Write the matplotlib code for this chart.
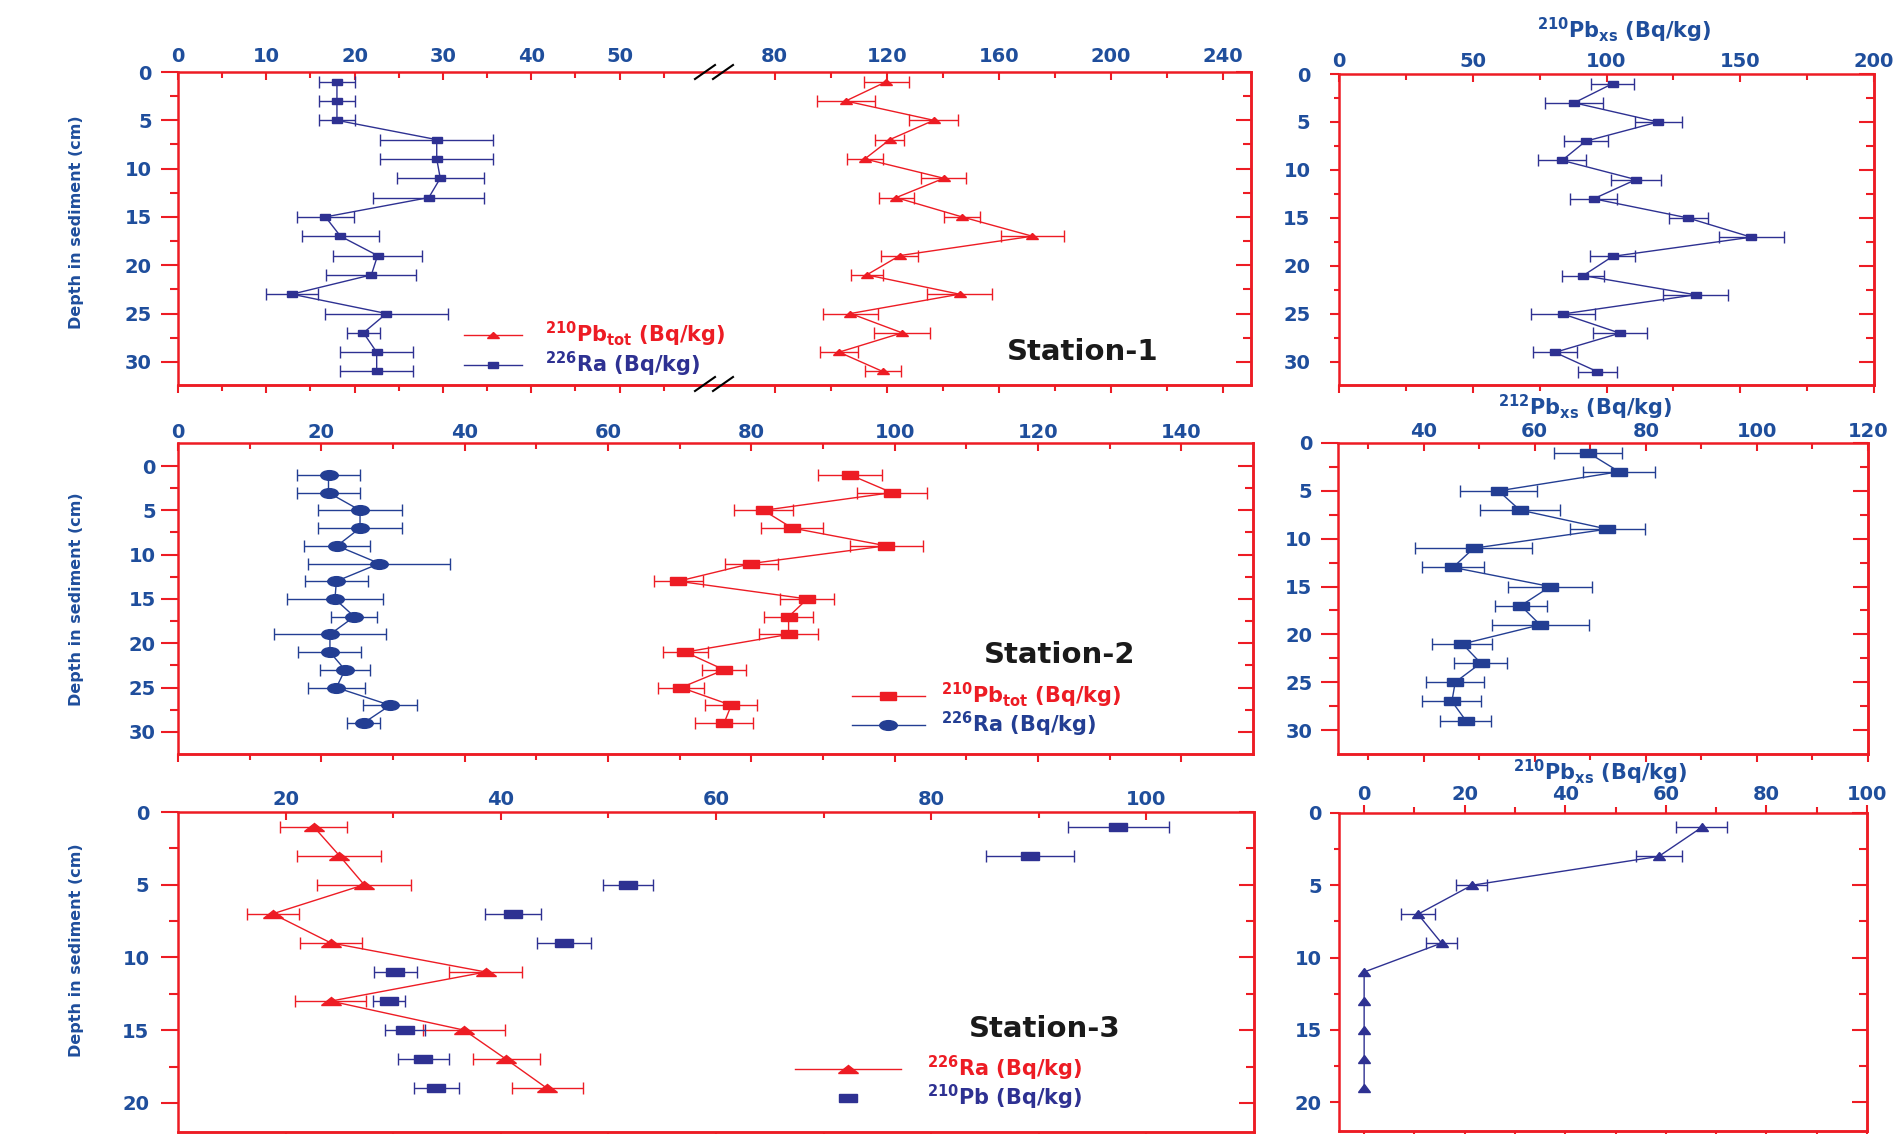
import matplotlib

matplotlib.use("Agg")
import matplotlib.pyplot as plt
from matplotlib import font_manager
from matplotlib.lines import Line2D
from matplotlib.markers import MarkerStyle
from matplotlib.ticker import FixedLocator
from matplotlib.transforms import Affine2D

W, H = 1902, 1134
RED = "#ED1C24"
NAVY = "#2E3192"
BLUE = "#1F4E9C"

plt.rcParams["font.family"] = ["DejaVu Sans"]
plt.rcParams["font.weight"] = "bold"
plt.rcParams["mathtext.default"] = "bf"

# ---- Station-1 ----
depth1 = [1, 3, 5, 7, 9, 11, 13, 15, 17, 19, 21, 23, 25, 27, 29, 31]
ra1 = [18.0, 18.0, 18.0, 29.3, 29.3, 29.7, 28.4, 16.7, 18.4, 22.6, 21.9, 12.9, 23.6, 21.0, 22.5, 22.5]
ra1_err = [2.0, 2.0, 2.0, 6.4, 6.4, 4.9, 6.3, 3.2, 4.4, 5.0, 5.1, 2.9, 7.0, 1.9, 4.1, 4.1]
pbtot1 = [119.9, 105.4, 136.8, 121.1, 112.2, 140.4, 123.4, 146.9, 172.0, 124.7, 112.9, 146.0, 107.1, 125.5, 103.0, 118.6]
pbtot1_err = [7.9, 10.3, 8.7, 5.1, 6.5, 8.0, 6.2, 6.4, 11.3, 6.6, 5.7, 11.6, 9.9, 10.1, 6.9, 6.4]
pbxs1 = [102.3, 87.9, 119.3, 92.2, 83.4, 111.0, 95.2, 130.5, 154.1, 102.3, 91.3, 133.3, 83.7, 105.0, 80.7, 96.5]
pbxs1_err = [8.0, 10.8, 8.8, 8.2, 8.9, 9.2, 8.8, 7.3, 12.2, 8.4, 7.8, 12.0, 12.0, 10.2, 8.2, 7.3]

# ---- Station-2 ----
depth2 = [1, 3, 5, 7, 9, 11, 13, 15, 17, 19, 21, 23, 25, 27, 29]
ra2 = [21.0, 21.0, 25.4, 25.4, 22.2, 28.1, 22.1, 21.9, 24.6, 21.2, 21.2, 23.3, 22.1, 29.6, 25.9]
ra2_err = [4.4, 4.4, 5.9, 5.9, 4.6, 9.9, 4.4, 6.7, 3.2, 7.8, 4.4, 3.5, 4.0, 3.8, 2.3]
pbtot2 = [93.8, 99.6, 81.7, 85.7, 98.8, 80.0, 69.8, 87.8, 85.2, 85.2, 70.8, 76.2, 70.2, 77.2, 76.2]
pbtot2_err = [4.5, 4.9, 4.1, 4.3, 5.1, 3.7, 3.4, 3.8, 3.4, 4.1, 3.1, 3.1, 3.2, 3.6, 4.1]
pb212_2 = [69.6, 75.2, 53.5, 57.3, 73.1, 49.0, 45.3, 62.8, 57.5, 61.0, 47.0, 50.3, 45.7, 45.1, 47.6]
pb212_2_err = [6.2, 6.5, 7.0, 7.2, 6.8, 10.6, 5.6, 7.6, 4.7, 8.7, 5.4, 4.8, 5.2, 5.3, 4.6]

# ---- Station-3 ----
depth3 = [1, 3, 5, 7, 9, 11, 13, 15, 17, 19]
ra3 = [22.6, 25.0, 27.3, 18.8, 24.2, 38.6, 24.2, 36.6, 40.5, 44.3]
ra3_err = [3.1, 3.9, 4.4, 2.4, 2.9, 3.4, 3.3, 3.8, 3.1, 3.3]
pb3 = [97.4, 89.2, 51.8, 41.1, 45.9, 30.2, 29.6, 31.1, 32.8, 34.0]
pb3_err = [4.7, 4.1, 2.3, 2.6, 2.5, 2.0, 1.5, 1.9, 2.4, 2.1]
pbxs3 = [67.1, 58.6, 21.4, 10.7, 15.4, 0.0, 0.0, 0.0, 0.0, 0.0]
pbxs3_err = [5.0, 4.6, 3.1, 3.4, 3.1, 0.0, 0.0, 0.0, 0.0, 0.0]

y_ticks_32 = [0, 5, 10, 15, 20, 25, 30]
y_minor_32 = [2.5, 7.5, 12.5, 17.5, 22.5, 27.5, 32.5]
y_ticks_22 = [0, 5, 10, 15, 20]
y_minor_22 = [2.5, 7.5, 12.5, 17.5]

TICK_SIZE = 14

fig = plt.figure(figsize=(W / 100, H / 100), dpi=100)
fig.patch.set_facecolor("white")


def mk(shape, sx):
    # markers are drawn wider than tall
    return MarkerStyle(shape, transform=Affine2D().scale(sx, 1.0))


def build(box, xlim, ylim, xmaj, xmin, ymaj, ymin, xpad=2, ylen=12, ypad=7,
          top_dir="in", left=True, right=True, hide=()):
    l, t, r, b = box
    ax = fig.add_axes([l / W, 1 - b / H, (r - l) / W, (b - t) / H])
    ax.set_xlim(xlim)
    ax.set_ylim(ylim)
    for side, sp in ax.spines.items():
        sp.set_color(RED)
        sp.set_linewidth(1.8)
        sp.set_visible(side not in hide)
    ax.xaxis.set_major_locator(FixedLocator(xmaj))
    ax.xaxis.set_minor_locator(FixedLocator(xmin))
    ax.yaxis.set_major_locator(FixedLocator(ymaj))
    ax.yaxis.set_minor_locator(FixedLocator(ymin))
    ax.tick_params(axis="x", which="both", top=True, bottom=False, labeltop=True,
                   labelbottom=False, direction=top_dir, color=RED, width=1.5,
                   labelcolor=BLUE, labelsize=TICK_SIZE, pad=xpad)
    ax.tick_params(axis="x", which="major", length=5.5)
    ax.tick_params(axis="x", which="minor", length=4)
    ax.tick_params(axis="y", which="both", left=left, right=False, labelleft=left,
                   labelright=False, direction="out", color=RED, width=1.5,
                   labelcolor=BLUE, labelsize=TICK_SIZE, pad=ypad)
    ax.tick_params(axis="y", which="major", length=ylen)
    ax.tick_params(axis="y", which="minor", length=ylen / 2)

    bot = ax.secondary_xaxis("bottom")
    bot.xaxis.set_major_locator(FixedLocator(xmaj))
    bot.xaxis.set_minor_locator(FixedLocator(xmin))
    bot.tick_params(which="both", direction="out", color=RED, width=1.5, labelbottom=False)
    bot.tick_params(which="major", length=5.5)
    bot.tick_params(which="minor", length=4)
    for sp in bot.spines.values():
        sp.set_color(RED)
        sp.set_linewidth(1.8)

    if right:
        rt = ax.secondary_yaxis("right")
        rt.yaxis.set_major_locator(FixedLocator(ymaj))
        rt.yaxis.set_minor_locator(FixedLocator(ymin))
        rt.tick_params(which="both", direction="in", color=RED, width=1.5, labelright=False)
        rt.tick_params(which="major", length=11)
        rt.tick_params(which="minor", length=5.5)
        for sp in rt.spines.values():
            sp.set_color(RED)
            sp.set_linewidth(1.8)
    return ax


def profile(ax, x, xerr, depth, color, marker, ms, line=True):
    xs = [v for v, e in zip(x, xerr) if e > 0]
    ds = [d for d, e in zip(depth, xerr) if e > 0]
    es = [e for e in xerr if e > 0]
    ax.errorbar(xs, ds, xerr=es, fmt="none", ecolor=color, elinewidth=1.0,
                capsize=4.5, capthick=1.0, clip_on=False)
    ax.plot(x, depth, color=color, lw=1.0 if line else 0, ls="-" if line else "none",
            marker=marker, ms=ms, mfc=color, mec=color, clip_on=False)


# ---- Station-1: broken x axis ----
ax1a = build((178, 72, 714, 385), (0, 60.7), (32.4, 0),
             [0, 10, 20, 30, 40, 50], [5, 15, 25, 35, 45, 55],
             y_ticks_32, y_minor_32, xpad=4, ylen=12, ypad=7,
             right=False, hide=("right",))
ax1b = build((714, 72, 1251, 385), (58.4, 250), (32.4, 0),
             [80, 120, 160, 200, 240], [100, 140, 180, 220],
             y_ticks_32, y_minor_32, xpad=4, left=False, hide=("left",))
profile(ax1a, ra1, ra1_err, depth1, NAVY, mk("s", 1.7), 4.5)
profile(ax1b, pbtot1, pbtot1_err, depth1, RED, mk("^", 1.8), 5)

# break marks on the top and bottom axes
for y0, y1 in [(79, 65), (391, 377)]:
    for x0 in (695, 713):
        fig.add_artist(Line2D([x0 / W, (x0 + 20) / W], [1 - y0 / H, 1 - y1 / H],
                              color="black", lw=1.5))

ax1c = build((1339, 74, 1874, 385), (0, 200), (32.4, 0),
             [0, 50, 100, 150, 200], [25, 75, 125, 175],
             y_ticks_32, y_minor_32, xpad=2, ylen=6.5, ypad=14)
profile(ax1c, pbxs1, pbxs1_err, depth1, NAVY, mk("s", 1.65), 4.5)

# ---- Station-2 ----
ax2a = build((178, 443, 1253, 754), (0, 150), (32.5, -2.6),
             [0, 20, 40, 60, 80, 100, 120, 140], [10, 30, 50, 70, 90, 110, 130],
             y_ticks_32, y_minor_32[:-1], xpad=1, ylen=12, ypad=4)
profile(ax2a, ra2, ra2_err, depth2, "#233E93", mk("o", 1.8), 7)
profile(ax2a, pbtot2, pbtot2_err, depth2, RED, mk("s", 2.0), 6)

ax2b = build((1338, 443, 1868, 754), (24.6, 120), (32.5, 0),
             [40, 60, 80, 100, 120], [30, 50, 70, 90, 110],
             y_ticks_32, y_minor_32[:-1], xpad=1.5, ylen=12.5, ypad=6)
profile(ax2b, pb212_2, pb212_2_err, depth2, "#233E93", mk("s", 2.0), 6)

# ---- Station-3 ----
ax3a = build((178, 812, 1254, 1132), (10, 110), (22, 0),
             [20, 40, 60, 80, 100], [30, 50, 70, 90],
             y_ticks_22, y_minor_22, xpad=2, ylen=12.5, ypad=8)
profile(ax3a, ra3, ra3_err, depth3, RED, mk("^", 2.4), 6)
profile(ax3a, pb3, pb3_err, depth3, NAVY, mk("s", 2.1), 6, line=False)

ax3b = build((1339, 813, 1867, 1131), (-5, 100), (22, 0),
             [0, 20, 40, 60, 80, 100], [10, 30, 50, 70, 90],
             y_ticks_22, y_minor_22, xpad=1, ylen=6.5, ypad=6, top_dir="out")
profile(ax3b, pbxs3, pbxs3_err, depth3, NAVY, mk("^", 1.4), 6)

# ---- axis titles ----
names = {f.name for f in font_manager.fontManager.ttflist}
if "Liberation Sans Narrow" in names:
    ylab_font, ylab_size = ["Liberation Sans Narrow", "DejaVu Sans"], 15
else:
    ylab_font, ylab_size = ["DejaVu Sans"], 11.5
for yc in (222, 599, 950):
    fig.text(76 / W, 1 - yc / H, "Depth in sediment (cm)", rotation=90, ha="center",
             va="center", color=BLUE, fontsize=ylab_size, family=ylab_font,
             fontweight="heavy")

for xc, yb, txt in [(1624, 38, r"$^{210}$Pb$_{xs}$ (Bq/kg)"),
                    (1585, 415, r"$^{212}$Pb$_{xs}$ (Bq/kg)"),
                    (1600, 780, r"$^{210}$Pb$_{xs}$ (Bq/kg)")]:
    fig.text(xc / W, 1 - yb / H, txt, ha="center", va="baseline", color=BLUE, fontsize=15)

for xc, yc, txt in [(1083, 352, "Station-1"), (1060, 655, "Station-2"), (1045, 1029, "Station-3")]:
    fig.text(xc / W, 1 - yc / H, txt, ha="center", va="center", color="#1A1A1A",
             fontsize=21, fontweight="bold")

# ---- legends ----
leg_prop = {"size": 15, "weight": "bold"}
h_pb1 = Line2D([], [], color=RED, lw=1.0, marker=mk("^", 1.8), ms=5)
h_ra1 = Line2D([], [], color=NAVY, lw=1.0, marker=mk("s", 1.7), ms=4.5)
fig.legend([h_pb1, h_ra1], [r"$^{210}$Pb$_{tot}$ (Bq/kg)", r"$^{226}$Ra (Bq/kg)"],
           loc="upper left", bbox_to_anchor=(464 / W, 1 - 320 / H), frameon=False,
           prop=leg_prop, labelcolor=[RED, NAVY], handlelength=2.8, handletextpad=1.1,
           labelspacing=0.05, borderpad=0, borderaxespad=0)

h_pb2 = Line2D([], [], color=RED, lw=1.0, marker=mk("s", 2.0), ms=6)
h_ra2 = Line2D([], [], color="#233E93", lw=1.0, marker=mk("o", 1.8), ms=7)
fig.legend([h_pb2, h_ra2], [r"$^{210}$Pb$_{tot}$ (Bq/kg)", r"$^{226}$Ra (Bq/kg)"],
           loc="upper left", bbox_to_anchor=(852 / W, 1 - 681 / H), frameon=False,
           prop=leg_prop, labelcolor=[RED, "#233E93"], handlelength=3.5,
           handletextpad=0.77, labelspacing=0.0, borderpad=0, borderaxespad=0)

h_ra3 = Line2D([], [], color=RED, lw=1.0, marker=mk("^", 2.4), ms=6)
h_pb3 = Line2D([], [], color=NAVY, ls="none", marker=mk("s", 2.1), ms=6)
fig.legend([h_ra3, h_pb3], [r"$^{226}$Ra (Bq/kg)", r"$^{210}$Pb (Bq/kg)"],
           loc="upper left", bbox_to_anchor=(795 / W, 1 - 1054 / H), frameon=False,
           prop=leg_prop, labelcolor=[RED, NAVY], handlelength=5.1, handletextpad=1.25,
           labelspacing=0.0, borderpad=0, borderaxespad=0)

fig.savefig("out.png", dpi=100, facecolor="white")
